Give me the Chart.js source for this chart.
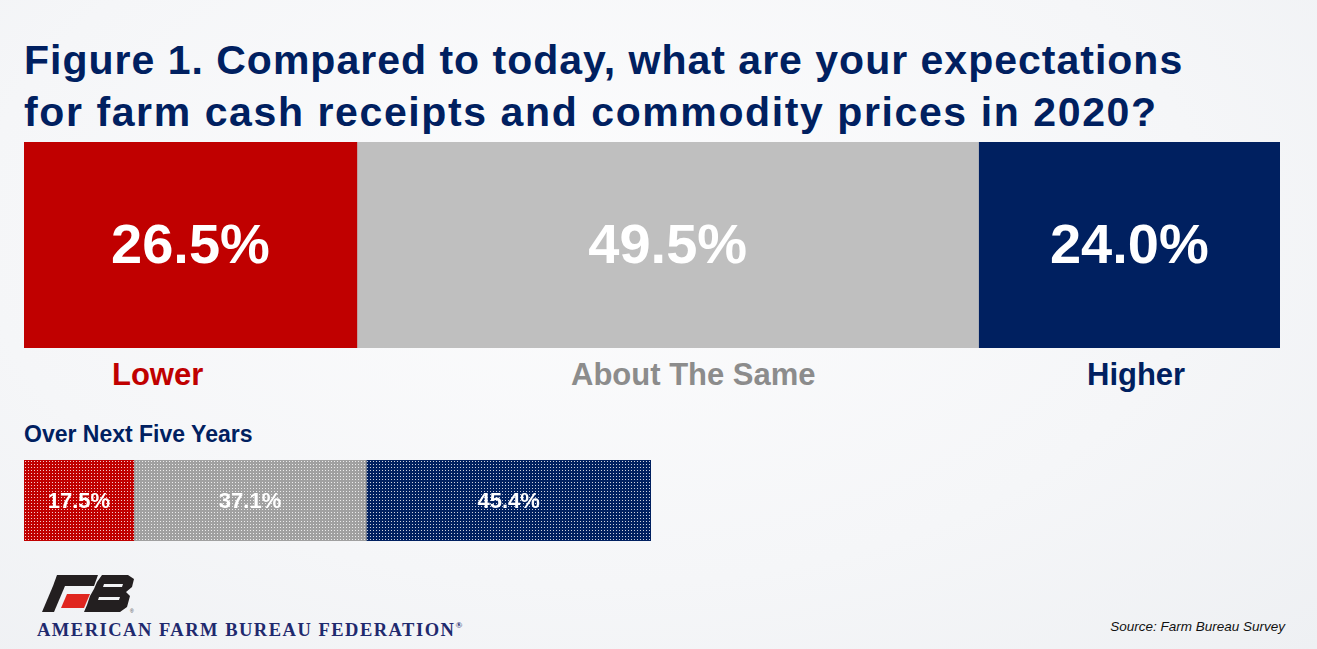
<!DOCTYPE html>
<html lang="en">
<head>
<meta charset="UTF-8">
<title>Figure 1</title>
<script src="https://cdn.jsdelivr.net/npm/chart.js"></script>
<style>
  html, body { margin: 0; padding: 0; }
  body {
    width: 1317px; height: 649px; position: relative; overflow: hidden;
    background: radial-gradient(ellipse at 45% 35%, #fcfcfd 0%, #f5f6f8 60%, #eef0f3 100%);
    font-family: "Liberation Sans", Arial, sans-serif;
  }
  .abs { position: absolute; white-space: nowrap; }
  #title { left: 24px; top: 34px; color: #002060; font-weight: bold; font-size: 41px; line-height: 52px; letter-spacing: 1px; }
  #title .l2 { letter-spacing: 1.6px; }
  .cat { top: 357px; font-weight: bold; font-size: 31px; }
  #sub { left: 24px; top: 421px; color: #002060; font-weight: bold; font-size: 23px; }
  #src { right: 32px; top: 619px; font-style: italic; font-size: 13.5px; color: #111; }
  #afbf { left: 37px; top: 620px; font-family: "Liberation Serif", serif; font-weight: bold; font-size: 18.5px; color: #1f2a6e; letter-spacing: 1.5px; }
  #logo { left: 40px; top: 574px; }
</style>
</head>
<body>
<div id="title" class="abs">Figure 1. Compared to today, what are your expectations<br><span class="l2">for farm cash receipts and commodity prices in 2020?</span></div>
<canvas id="topChart" class="abs" width="1256" height="206" style="left:24px;top:142px;"></canvas>
<div class="abs cat" style="left:112px;color:#c00000;">Lower</div>
<div class="abs cat" style="left:571px;color:#8c8c8c;">About The Same</div>
<div class="abs cat" style="left:1087px;color:#002060;">Higher</div>
<div id="sub" class="abs">Over Next Five Years</div>
<canvas id="fiveChart" class="abs" width="627" height="81" style="left:24px;top:460px;"></canvas>
<svg id="logo" class="abs" width="100" height="42" viewBox="0 0 100 42">
  <polygon points="17,1 58,1 54,12 13,12" fill="#231f20"/>
  <polygon points="13,12 25,12 14,38 2,38" fill="#231f20"/>
  <polygon points="27,20 50,20 44,34 21,34" fill="#e0261f"/>
  <path fill-rule="evenodd" fill="#231f20"
        d="M62,1 L88,1 L94,5 L92,13 L86,18 L90,22 L87,33 L80,38 L44,38 L47,31 L50,22 L54,15 L57,8 Z
           M63,13 L82,13 L83,10 L64,10 Z
           M58,26 L79,26 L80,23 L59,23 Z"/>
  <text x="90" y="39" font-size="5" fill="#444">®</text>
</svg>
<div id="afbf" class="abs">AMERICAN FARM BUREAU FEDERATION<span style="font-size:9px;vertical-align:top;">®</span></div>
<div id="src" class="abs">Source: Farm Bureau Survey</div>
<script>
  const categories = ['Lower', 'About The Same', 'Higher'];
  const values2020 = [26.5, 49.5, 24.0];
  const valuesFiveYears = [17.5, 37.1, 45.4];
  const solidColors = ['#c00000', '#bfbfbf', '#002060'];
  const dottedBase = ['#c00000', '#a0a0a0', '#002060'];

  function dotPattern(color) {
    const c = document.createElement('canvas');
    c.width = 3; c.height = 3;
    const g = c.getContext('2d');
    g.fillStyle = color;
    g.fillRect(0, 0, 3, 3);
    g.fillStyle = 'rgba(255,255,255,0.8)';
    g.fillRect(1, 1, 1, 1);
    return g.createPattern(c, 'repeat');
  }

  const valueLabels = {
    id: 'valueLabels',
    afterDatasetsDraw(chart, args, opts) {
      const ctx = chart.ctx;
      ctx.save();
      ctx.fillStyle = '#ffffff';
      ctx.font = 'bold ' + opts.size + 'px "Liberation Sans", Arial, sans-serif';
      ctx.textAlign = 'center';
      ctx.textBaseline = 'middle';
      chart.data.datasets.forEach((ds, i) => {
        const bar = chart.getDatasetMeta(i).data[0];
        const cx = (bar.x + bar.base) / 2;
        ctx.fillText(ds.data[0].toFixed(1) + '%', cx, bar.y + opts.dy);
      });
      ctx.restore();
    }
  };

  function makeChart(id, values, colors, size, dy) {
    return new Chart(document.getElementById(id), {
      type: 'bar',
      data: {
        labels: ['row'],
        datasets: categories.map((c, i) => ({
          label: c,
          data: [values[i]],
          backgroundColor: colors[i],
          borderWidth: 0,
          barPercentage: 1,
          categoryPercentage: 1
        }))
      },
      options: {
        indexAxis: 'y',
        responsive: false,
        animation: false,
        layout: { padding: 0 },
        scales: {
          x: { stacked: true, min: 0, max: 100, display: false },
          y: { stacked: true, display: false }
        },
        plugins: {
          legend: { display: false },
          tooltip: { enabled: false },
          valueLabels: { size: size, dy: dy }
        }
      },
      plugins: [valueLabels]
    });
  }

  makeChart('topChart', values2020, solidColors, 56, 3);
  makeChart('fiveChart', valuesFiveYears, dottedBase.map(dotPattern), 22, 1);
</script>
</body>
</html>
